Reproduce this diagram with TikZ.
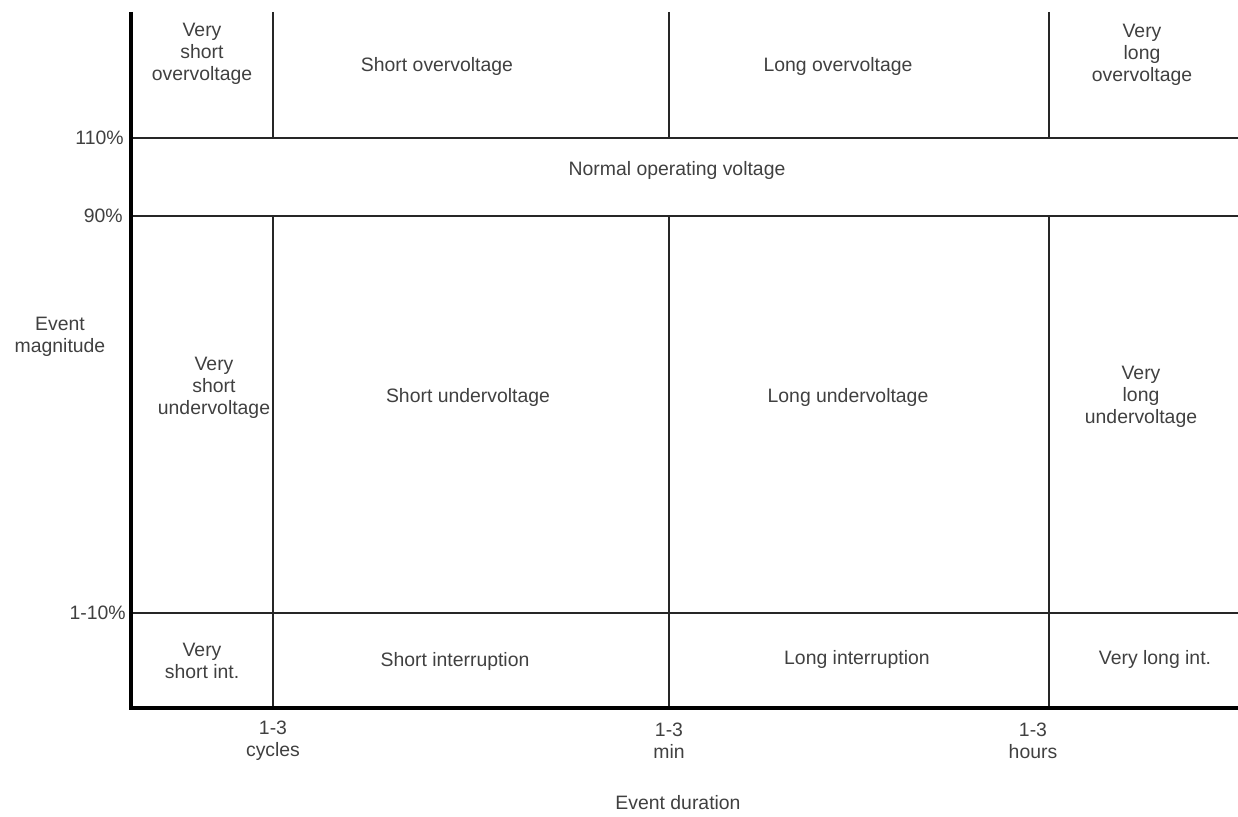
\documentclass[tikz,border=0pt]{standalone}
\usepackage{fontspec}
\setmainfont{Liberation Sans}
\begin{document}
\begin{tikzpicture}[x=0.5pt,y=-0.5pt,
  lbl/.style={text=black!75,font=\fontsize{9.7}{11}\selectfont,align=center,inner sep=0pt},
  gridline/.style={line width=0.75pt,black!85}]
\useasboundingbox (0,0) rectangle (1238,817);
% magnitude bands
\draw[gridline] (131,138) -- (1238,138);
\draw[gridline] (131,216) -- (1238,216);
\draw[gridline] (131,613) -- (1238,613);
% duration limits
\foreach \x in {273,669,1049} {
  \draw[gridline] (\x,12) -- (\x,138);
  \draw[gridline] (\x,216) -- (\x,708);
}
% axes
\draw[line width=2pt] (131,12) -- (131,708) -- (1238,708);
% vertical axis
\node[lbl,anchor=east] (p110) at (124,138) {110\%};
\node[lbl,anchor=east] (p90) at (123,216) {90\%};
\node[lbl,anchor=east] (p10) at (126,613) {1-10\%};
\node[lbl] (ymag) at (60,337) {Event\\magnitude};
% horizontal axis
\node[lbl] (tcyc) at (273,741) {1-3\\cycles};
\node[lbl] (tmin) at (669,741) {1-3\\min};
\node[lbl] (thrs) at (1033,741) {1-3\\hours};
\node[lbl] (xdur) at (678,803) {Event duration};
% overvoltage
\node[lbl] (vsov) at (202,54) {Very\\short\\overvoltage};
\node[lbl] (sov) at (437,66) {Short overvoltage};
\node[lbl] (lov) at (838,66) {Long overvoltage};
\node[lbl] (vlov) at (1142,55) {Very\\long\\overvoltage};
% normal
\node[lbl] (norm) at (677,170) {Normal operating voltage};
% undervoltage
\node[lbl] (vsun) at (214,388) {Very\\short\\undervoltage};
\node[lbl] (sun) at (468,397) {Short undervoltage};
\node[lbl] (lun) at (848,397) {Long undervoltage};
\node[lbl] (vlun) at (1141,397) {Very\\long\\undervoltage};
% interruption
\node[lbl] (vsint) at (202,661) {Very\\short int.};
\node[lbl] (sint) at (455,661) {Short interruption};
\node[lbl] (lint) at (857,659) {Long interruption};
\node[lbl] (vlint) at (1155,659) {Very long int.};
\end{tikzpicture}
\end{document}
